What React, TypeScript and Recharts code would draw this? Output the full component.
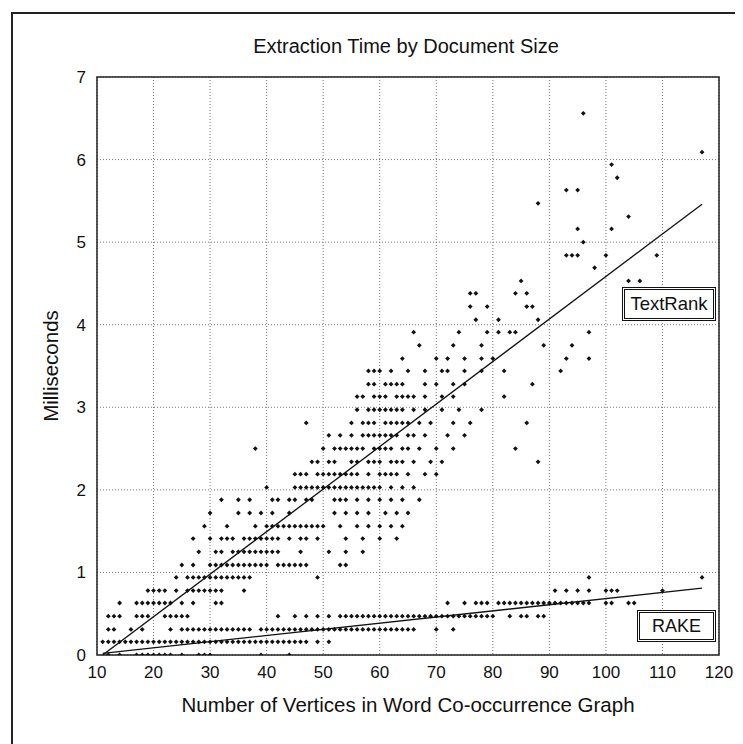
import React from 'react';
import { ScatterChart, Scatter, XAxis, YAxis, CartesianGrid, ReferenceArea } from 'recharts';

const FONT = "'Liberation Sans', Arial, Helvetica, sans-serif";

const xTicks = [10, 20, 30, 40, 50, 60, 70, 80, 90, 100, 110, 120];
const yTicks = [0, 1, 2, 3, 4, 5, 6, 7];

// TextRank extraction times: [milliseconds, vertex counts at that time]
const textRankRows: [number, number[]][] = [
  [0.16, [11]],
  [0.31, [12, 13, 16, 18]],
  [0.47, [12, 13, 14, 17, 18, 19, 22, 23, 24, 25, 26]],
  [0.63, [14, 17, 18, 19, 20, 21, 22, 23, 25, 27, 31, 32]],
  [0.78, [19, 20, 21, 22, 24, 26, 27, 28, 29, 30, 31, 32, 36]],
  [0.94, [24, 26, 27, 28, 29, 30, 31, 32, 33, 34, 35, 36, 37, 49]],
  [1.09, [25, 27, 30, 31, 32, 33, 34, 35, 36, 37, 38, 39, 40, 42, 43, 44, 45, 46, 47, 53, 54]],
  [1.25, [28, 31, 32, 34, 35, 36, 37, 38, 39, 40, 41, 42, 46, 51, 54, 57]],
  [1.41, [27, 30, 32, 33, 34, 36, 37, 38, 39, 40, 41, 42, 44, 46, 47, 49, 54, 57, 60, 63]],
  [1.56, [29, 33, 38, 40, 41, 42, 43, 44, 45, 46, 47, 48, 49, 50, 53, 56, 58, 60, 62, 64]],
  [1.72, [30, 35, 37, 39, 41, 44, 52, 54, 56, 58, 61, 63, 65]],
  [1.88, [32, 35, 37, 41, 42, 44, 45, 47, 48, 52, 53, 54, 56, 58, 60, 62, 64, 67]],
  [2.03, [40, 45, 46, 47, 48, 49, 50, 51, 52, 53, 54, 55, 56, 57, 58, 59, 60, 62, 64, 66]],
  [2.19, [45, 46, 47, 49, 50, 51, 52, 53, 54, 55, 56, 58, 60, 61, 62, 63, 65, 68, 70]],
  [2.34, [48, 49, 51, 52, 55, 56, 58, 59, 60, 62, 63, 64, 66, 69, 71, 88]],
  [2.5, [38, 50, 52, 53, 54, 55, 56, 57, 59, 60, 61, 62, 64, 65, 67, 70, 73, 84]],
  [2.66, [51, 53, 55, 57, 58, 59, 60, 61, 62, 63, 65, 66, 68, 72, 75]],
  [2.81, [47, 55, 57, 58, 59, 61, 62, 63, 64, 65, 67, 69, 73, 76, 86]],
  [2.97, [56, 58, 59, 60, 61, 62, 63, 64, 66, 68, 71, 74, 78]],
  [3.13, [56, 57, 59, 60, 61, 63, 64, 65, 66, 68, 71, 73, 82]],
  [3.28, [58, 59, 61, 62, 63, 64, 68, 70, 73, 75, 87]],
  [3.44, [58, 59, 60, 62, 65, 68, 71, 72, 75, 78, 82, 92]],
  [3.59, [64, 70, 72, 75, 78, 80, 93, 97]],
  [3.75, [67, 73, 78, 89, 94]],
  [3.91, [66, 74, 79, 81, 83, 84, 97]],
  [4.06, [77, 81, 88]],
  [4.22, [76, 79, 86, 87]],
  [4.38, [76, 77, 84, 86]],
  [4.53, [85, 104, 106]],
  [4.69, [98]],
  [4.84, [93, 94, 95, 100, 109]],
  [5.0, [96]],
  [5.16, [95, 101]],
  [5.31, [104]],
  [5.47, [88]],
  [5.63, [93, 95]],
  [5.78, [102]],
  [5.94, [101]],
  [6.09, [117]],
  [6.56, [96]],
];

// RAKE extraction times: [milliseconds, vertex counts at that time]
const rakeRows: [number, number[]][] = [
  [0, [12, 14, 17, 18, 19, 20, 21, 22, 23, 25, 28, 29, 30, 39, 44]],
  [0.16, [12, 13, 14, 15, 16, 17, 18, 19, 20, 21, 22, 23, 24, 25, 26, 27, 28, 29, 30, 31, 32, 33, 34, 35, 36, 37, 38, 39, 40, 41, 42, 43, 44, 45, 46, 47, 49, 51]],
  [0.31, [23, 25, 26, 27, 28, 29, 30, 31, 32, 33, 34, 35, 36, 37, 39, 40, 41, 42, 43, 44, 45, 46, 47, 48, 49, 50, 51, 52, 53, 54, 55, 56, 57, 58, 59, 60, 61, 62, 63, 64, 65, 66, 70, 73]],
  [0.47, [42, 45, 47, 49, 51, 53, 54, 55, 56, 57, 58, 59, 60, 61, 62, 63, 64, 65, 66, 67, 68, 69, 70, 71, 72, 73, 74, 75, 76, 77, 78, 79, 80, 83, 85, 86, 88, 89]],
  [0.63, [72, 75, 77, 78, 79, 81, 82, 83, 84, 85, 86, 87, 88, 89, 90, 91, 92, 93, 94, 95, 96, 97, 100, 101, 104, 105]],
  [0.78, [91, 93, 95, 97, 100, 101, 102, 110]],
  [0.94, [97, 117]],
];

const textRankFit = [
  { x: 11, y: 0 },
  { x: 117, y: 5.46 },
];
const rakeFit = [
  { x: 11, y: 0.02 },
  { x: 117, y: 0.81 },
];

const toPoints = (rows: [number, number[]][]) =>
  rows.flatMap(([y, xs]) => xs.map((x) => ({ x, y })));

const textRankPoints = toPoints(textRankRows);
const rakePoints = toPoints(rakeRows);

const Diamond = (props: any) => {
  const { cx, cy } = props;
  if (cx == null || cy == null) return <g />;
  const r = 2.4;
  return (
    <path
      d={`M${cx},${cy - r}L${cx + r},${cy}L${cx},${cy + r}L${cx - r},${cy}Z`}
      fill="#111"
    />
  );
};

const NoShape = () => <g />;

const boxStyle: React.CSSProperties = {
  position: 'absolute',
  border: '3px double #111',
  background: '#fff',
  boxSizing: 'border-box',
  fontFamily: FONT,
  color: '#111',
  display: 'flex',
  alignItems: 'center',
  justifyContent: 'center',
};

export default function App() {
  return (
    <div style={{ position: 'relative', width: 735, height: 736, fontFamily: FONT, background: '#fff' }}>
      <div
        style={{
          position: 'absolute',
          left: 3,
          top: 4,
          width: 732,
          height: 740,
          borderLeft: '2px solid #222',
          borderTop: '2px solid #222',
          borderRight: '2px solid #222',
          boxSizing: 'border-box',
        }}
      />
      <div
        style={{
          position: 'absolute',
          left: 98,
          width: 600,
          top: 28,
          height: 20,
          lineHeight: '20px',
          textAlign: 'center',
          fontSize: 20,
          color: '#111',
        }}
      >
        Extraction Time by Document Size
      </div>
      <ScatterChart
        width={735}
        height={736}
        margin={{ top: 69, right: 24, bottom: 49, left: 39 }}
        style={{ position: 'absolute', left: 0, top: 0 }}
      >
        <CartesianGrid stroke="#777" strokeDasharray="1 2" />
        <XAxis
          type="number"
          dataKey="x"
          domain={[10, 120]}
          ticks={xTicks}
          allowDataOverflow
          tickLine={false}
          axisLine={false}
          tickSize={0}
          tickMargin={11}
          height={40}
          tick={{ fontSize: 17, fill: '#111', fontFamily: FONT }}
        />
        <YAxis
          type="number"
          dataKey="y"
          domain={[0, 7]}
          ticks={yTicks}
          allowDataOverflow
          tickLine={false}
          axisLine={false}
          tickSize={0}
          tickMargin={11}
          width={50}
          tick={{ fontSize: 17, fill: '#111', fontFamily: FONT }}
        />
        <ReferenceArea x1={10} x2={120} y1={0} y2={7} fill="none" stroke="#222" strokeWidth={1.5} />
        <Scatter name="TextRank" data={textRankPoints} shape={Diamond} isAnimationActive={false} />
        <Scatter name="RAKE" data={rakePoints} shape={Diamond} isAnimationActive={false} />
        <Scatter
          name="TextRank fit"
          data={textRankFit}
          shape={NoShape}
          line={{ stroke: '#111', strokeWidth: 1.3 }}
          isAnimationActive={false}
        />
        <Scatter
          name="RAKE fit"
          data={rakeFit}
          shape={NoShape}
          line={{ stroke: '#111', strokeWidth: 1.3 }}
          isAnimationActive={false}
        />
      </ScatterChart>
      <div style={{ ...boxStyle, left: 614, top: 279, width: 94, height: 34, fontSize: 18.5 }}>TextRank</div>
      <div style={{ ...boxStyle, left: 629, top: 602, width: 79, height: 32, fontSize: 18 }}>RAKE</div>
      <div
        style={{
          position: 'absolute',
          left: -57,
          top: 348,
          width: 200,
          height: 20,
          lineHeight: '20px',
          textAlign: 'center',
          fontSize: 20.5,
          color: '#111',
          transform: 'rotate(-90deg)',
        }}
      >
        Milliseconds
      </div>
      <div
        style={{
          position: 'absolute',
          left: 100,
          width: 600,
          top: 687,
          height: 20,
          lineHeight: '20px',
          textAlign: 'center',
          fontSize: 20.5,
          color: '#111',
        }}
      >
        Number of Vertices in Word Co-occurrence Graph
      </div>
    </div>
  );
}
